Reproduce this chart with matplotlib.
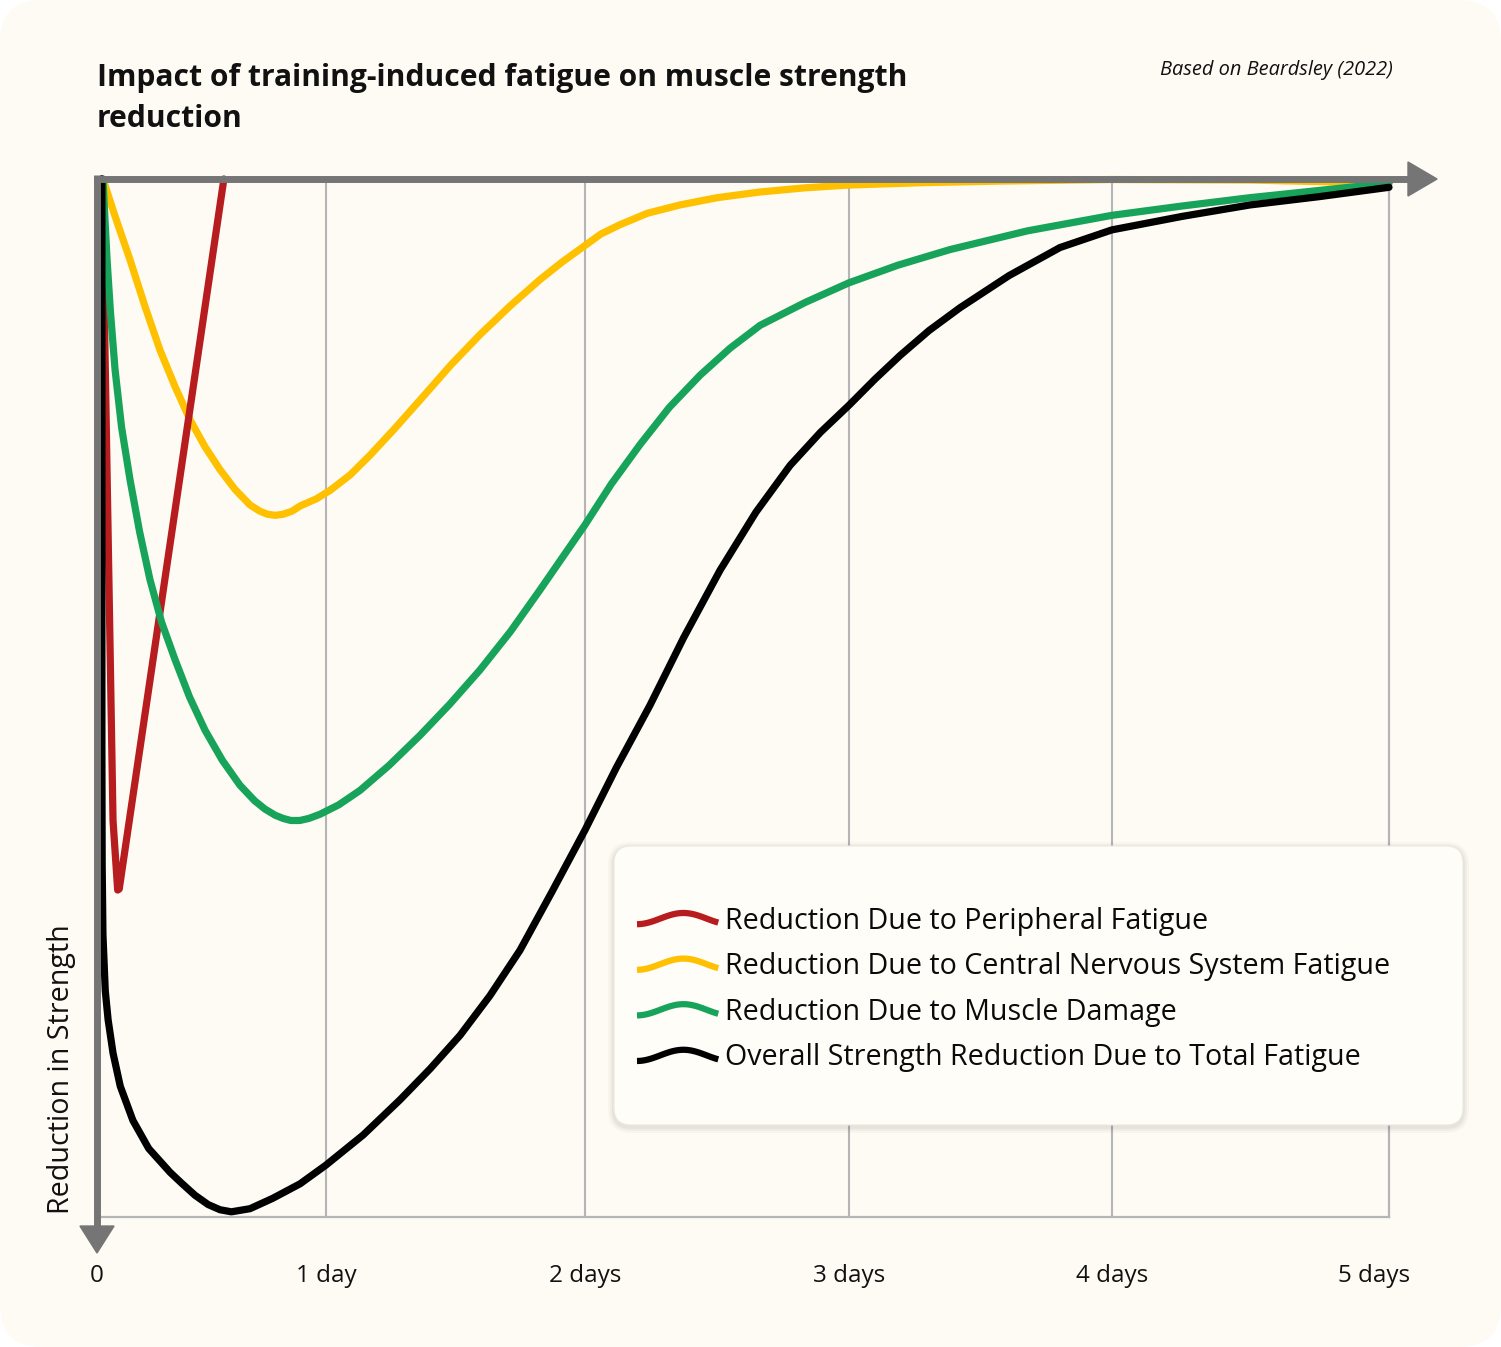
import numpy as np
import matplotlib
matplotlib.use('Agg')
import matplotlib.pyplot as plt
from matplotlib.patches import FancyBboxPatch, Polygon
from matplotlib.lines import Line2D
from matplotlib.legend_handler import HandlerLine2D
from matplotlib.transforms import ScaledTranslation

plt.rcParams['font.family'] = ['Open Sans', 'DejaVu Sans']

# data: x in days (axis scale), y in % strength reduction (0 = baseline)
tick_pos = [0, 0.886, 1.889, 2.910, 3.928, 5.0]
tick_labels = ['0', '1 day', '2 days', '3 days', '4 days', '5 days']

red_x = [0.017, 0.028, 0.062, 0.080, 0.086, 0.491]
red_y = [0.0, 12.3, 61.8, 68.5, 68.4, 0.0]

yellow_x = [0.023, 0.070, 0.128, 0.186, 0.244, 0.302, 0.360, 0.418, 0.476, 0.534, 0.592, 0.630,
            0.660, 0.690, 0.720, 0.755, 0.786, 0.850, 0.902, 0.980, 1.057, 1.150, 1.250, 1.370,
            1.482, 1.600, 1.714, 1.800, 1.889, 1.950, 2.024, 2.130, 2.256, 2.400, 2.566, 2.740,
            2.910, 3.200, 3.495, 3.928, 4.462, 5.0]
yellow_y = [0.0, 3.6, 7.8, 12.3, 16.5, 20.0, 23.2, 25.8, 28.0, 29.9, 31.4, 32.0,
            32.3, 32.4, 32.3, 32.0, 31.5, 30.8, 30.0, 28.5, 26.6, 24.1, 21.3, 17.9,
            15.0, 12.2, 9.7, 8.0, 6.4, 5.3, 4.4, 3.3, 2.5, 1.8, 1.25, 0.85,
            0.58, 0.35, 0.2, 0.05, 0.1, 0.4]

green_x = [0.023, 0.030, 0.039, 0.052, 0.070, 0.095, 0.128, 0.165, 0.205, 0.250, 0.302, 0.358,
           0.418, 0.485, 0.553, 0.610, 0.650, 0.690, 0.720, 0.750, 0.785, 0.820, 0.863, 0.935,
           1.018, 1.130, 1.250, 1.365, 1.482, 1.600, 1.714, 1.800, 1.889, 1.990, 2.101, 2.215,
           2.334, 2.450, 2.566, 2.740, 2.910, 3.100, 3.301, 3.600, 3.928, 4.200, 4.462, 5.0]
green_y = [0.0, 3.5, 7.8, 12.8, 18.4, 23.9, 29.0, 34.0, 38.6, 42.7, 46.3, 49.9,
           53.1, 56.0, 58.4, 59.9, 60.7, 61.3, 61.6, 61.8, 61.8, 61.6, 61.2, 60.3,
           58.9, 56.5, 53.6, 50.6, 47.3, 43.6, 39.6, 36.5, 33.3, 29.4, 25.6, 22.0,
           18.9, 16.3, 14.1, 11.9, 10.0, 8.3, 6.8, 5.0, 3.5, 2.6, 1.8, 0.4]

black_x = [0.019, 0.019, 0.019, 0.020, 0.023, 0.032, 0.043, 0.062, 0.090, 0.139, 0.200, 0.283,
           0.330, 0.379, 0.430, 0.476, 0.520, 0.592, 0.680, 0.786, 0.886, 1.030, 1.173, 1.290,
           1.405, 1.520, 1.637, 1.760, 1.889, 2.010, 2.140, 2.270, 2.411, 2.550, 2.682, 2.800,
           2.910, 3.010, 3.108, 3.220, 3.340, 3.530, 3.727, 3.928, 4.200, 4.462, 4.730, 5.0]
black_y = [0.0, 30.0, 55.0, 66.0, 72.8, 78.2, 81.0, 84.2, 87.4, 90.7, 93.4, 95.7,
           96.8, 97.9, 98.8, 99.3, 99.5, 99.2, 98.2, 96.8, 95.0, 92.1, 88.7, 85.7,
           82.5, 78.7, 74.3, 68.7, 62.7, 56.7, 50.7, 44.2, 37.7, 32.1, 27.6, 24.4,
           21.8, 19.3, 17.0, 14.6, 12.4, 9.3, 6.6, 4.9, 3.6, 2.5, 1.7, 0.8]

series = [
    ('Reduction Due to Peripheral Fatigue', red_x, red_y, '#b71c1f', 3),
    ('Reduction Due to Central Nervous System Fatigue', yellow_x, yellow_y, '#ffc000', 2),
    ('Reduction Due to Muscle Damage', green_x, green_y, '#18a35a', 4),
    ('Overall Strength Reduction Due to Total Fatigue', black_x, black_y, '#000000', 5),
]

BG = '#fdfbf4'
AXIS_GRAY = '#757575'
GRID_GRAY = '#b5b5b5'


class WavyHandler(HandlerLine2D):
    def create_artists(self, legend, orig_handle, xdescent, ydescent, width, height, fontsize, trans):
        t = np.linspace(0, 1, 40)
        xs = -xdescent + t * width
        ys = -ydescent + height / 2 + 0.28 * height * (-np.cos(1.75 * np.pi * t))
        ln = Line2D(xs, ys, color=orig_handle.get_color(), lw=orig_handle.get_linewidth(),
                    solid_capstyle='butt')
        ln.set_transform(trans)
        return [ln]


fig = plt.figure(figsize=(15.01, 13.47), dpi=100)
fig.patch.set_facecolor('white')
# rounded card background
fig.patches.append(FancyBboxPatch((0, 0), 15.01, 13.47, boxstyle='round,pad=0,rounding_size=0.42',
                                  transform=fig.dpi_scale_trans, facecolor=BG, edgecolor='none',
                                  zorder=-10))

W, H = 1501, 1347
ax = fig.add_axes([97 / W, 1 - 1217 / H, 1292 / W, 1038 / H])
ax.set_facecolor('none')
ax.set_xlim(0, 5)
ax.set_ylim(100, 0)

for name, xs, ys, col, z in series:
    ax.plot(xs, ys, color=col, lw=5.2, solid_capstyle='round', solid_joinstyle='round',
            zorder=z, clip_on=False, label=name)

# grid
for xp in tick_pos[1:-1]:
    ax.axvline(xp, color=GRID_GRAY, lw=1.5, zorder=1)

ax.set_xticks(tick_pos)
ax.set_xticklabels(tick_labels, fontsize=17.5, color='#111111')
ax.tick_params(axis='x', length=0, pad=34)
ax.set_yticks([])
for s in ['left', 'top']:
    ax.spines[s].set_visible(False)
for s in ['bottom', 'right']:
    ax.spines[s].set_color(GRID_GRAY)
    ax.spines[s].set_linewidth(1.6)
# nudge the last label left like the original
lbl = ax.get_xticklabels()[-1]
lbl.set_transform(lbl.get_transform() + ScaledTranslation(-0.15, 0, fig.dpi_scale_trans))

# axis arrows (axes fraction)
aw = 5.0
ax.plot([-0.0027, 1.016], [1, 1], transform=ax.transAxes, color=AXIS_GRAY, lw=aw,
        solid_capstyle='butt', clip_on=False, zorder=10)
ax.add_patch(Polygon([(1.0147, 1 + 0.0164), (1.0372, 1), (1.0147, 1 - 0.0164)], closed=True,
                     transform=ax.transAxes, color=AXIS_GRAY, clip_on=False, zorder=10))
ax.plot([0, 0], [1.0034, -0.010], transform=ax.transAxes, color=AXIS_GRAY, lw=aw,
        solid_capstyle='butt', clip_on=False, zorder=10)
ax.add_patch(Polygon([(-0.0132, -0.0087), (0, -0.0347), (0.0132, -0.0087)], closed=True,
                     transform=ax.transAxes, color=AXIS_GRAY, clip_on=False, zorder=10))

# titles
fig.text(97 / W, 1 - 86 / H, 'Impact of training-induced fatigue on muscle strength',
         fontsize=21.6, fontweight='bold', va='baseline', ha='left', color='#111111')
fig.text(97 / W, 1 - 127 / H, 'reduction', fontsize=21.6, fontweight='bold',
         va='baseline', ha='left', color='#111111')
fig.text(1393 / W, 1 - 70 / H, 'Based on Beardsley (2022)', fontsize=14.4, style='italic',
         ha='right', va='center', color='#111111')
fig.text(62 / W, 1 - 1214 / H, 'Reduction in Strength', fontsize=20.6, rotation=90,
         ha='center', va='bottom', color='#111111')

# legend card with soft shadow
for i, a in enumerate([0.025, 0.03, 0.04]):
    grow = 0.06 - i * 0.02
    fig.patches.append(FancyBboxPatch((6.14 - grow, 2.22 - grow - 0.02), 8.49 + 2 * grow, 2.79 + 2 * grow,
                                      boxstyle='round,pad=0,rounding_size=%.3f' % (0.17 + grow),
                                      transform=fig.dpi_scale_trans, facecolor='black', alpha=a,
                                      edgecolor='none', zorder=20))
fig.patches.append(FancyBboxPatch((6.14, 2.22), 8.49, 2.79, boxstyle='round,pad=0,rounding_size=0.17',
                                  transform=fig.dpi_scale_trans, facecolor='#fefdf7',
                                  edgecolor='#ebe8df', lw=0.8, zorder=21))

handles = [Line2D([], [], color=s[3], lw=4.5) for s in series]
labels = [s[0] for s in series]
leg = fig.legend(handles, labels, loc='center left', bbox_to_anchor=(637 / W, 1 - 989.5 / H),
                 frameon=False, fontsize=20.6, handlelength=2.84, handletextpad=0.25,
                 labelspacing=0.58, borderpad=0, borderaxespad=0,
                 handler_map={Line2D: WavyHandler()})
for t in leg.get_texts():
    t.set_color('#0a0a0a')
leg.set_zorder(22)

fig.savefig('out.png', dpi=100, facecolor='white')
